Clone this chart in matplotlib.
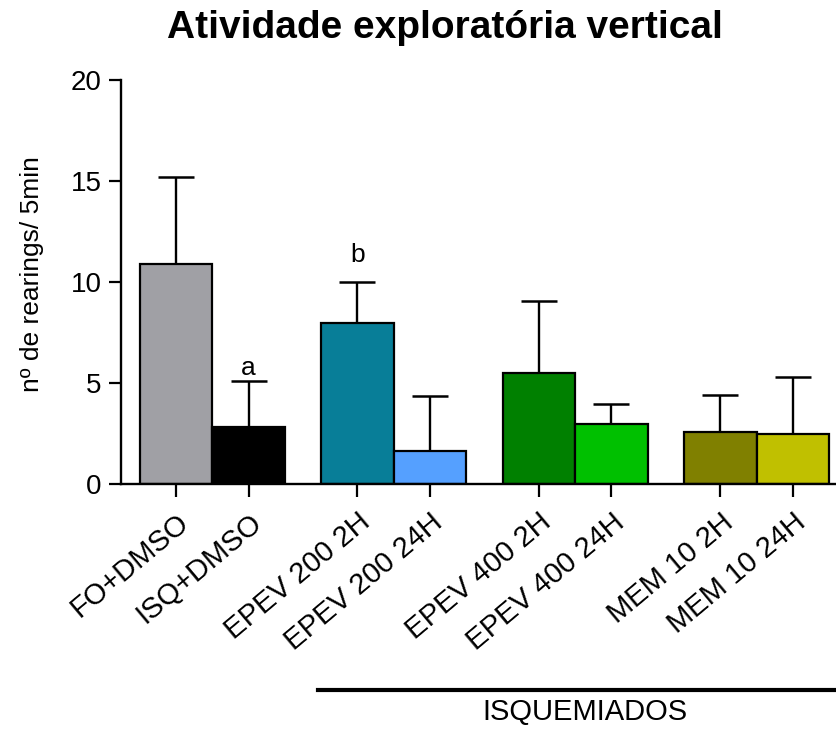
import numpy as np
import matplotlib
matplotlib.use("Agg")
import matplotlib.pyplot as plt

plt.rcParams['font.family'] = ['Liberation Sans', 'DejaVu Sans']

grupos = ["FO+DMSO", "ISQ+DMSO", "EPEV 200 2H", "EPEV 200 24H",
          "EPEV 400 2H", "EPEV 400 24H", "MEM 10 2H", "MEM 10 24H"]
medias = [10.9, 2.82, 8.0, 1.65, 5.5, 2.98, 2.57, 2.47]
epm = [4.28, 2.28, 2.01, 2.74, 3.57, 1.01, 1.87, 2.84]
cores = ["#a0a0a5", "#000000", "#087e98", "#55a0ff",
         "#008000", "#00c000", "#808000", "#c0c000"]
# letras de significancia: indice da barra -> (texto, altura)
letras = {1: ("a", 5.4), 2: ("b", 11.0)}

# pares de barras separados por meia largura
pos = np.array([0, 1, 2.5, 3.5, 5, 6, 7.5, 8.5])

fig = plt.figure(figsize=(8.37, 7.29), dpi=100)
ax = fig.add_axes([0.1446, 0.3357, 0.853, 0.5546])

ax.bar(pos, medias, width=1.0, color=cores, edgecolor="black", linewidth=1.6, zorder=2)
ax.errorbar(pos, medias, yerr=[np.zeros(len(medias)), epm], fmt="none",
            ecolor="black", elinewidth=1.7, capsize=13, capthick=1.8, zorder=1)

for i, (txt, y) in letras.items():
    ax.text(pos[i], y, txt, ha="center", va="baseline", fontsize=19)

ax.set_xlim(-0.758, 9.08)
ax.set_ylim(0, 20)
ax.set_yticks([0, 5, 10, 15, 20])
ax.set_xticks(pos)
ax.set_xticklabels(grupos, rotation=40, ha="right", rotation_mode="anchor", fontsize=21)
ax.tick_params(axis="y", labelsize=20, width=1.6, length=9, pad=5)
ax.tick_params(axis="x", width=1.6, length=9, pad=8)
for s in ["top", "right"]:
    ax.spines[s].set_visible(False)
for s in ["left", "bottom"]:
    ax.spines[s].set_linewidth(1.7)

ax.set_ylabel("nº de rearings/ 5min", fontsize=19)
ax.yaxis.set_label_coords(-0.108, 0.52)

fig.text(445 / 837, 1 - 38 / 729, "Atividade exploratória vertical",
         ha="center", va="baseline", fontsize=28, fontweight="bold")

# barra indicando os grupos isquemiados
fig.add_artist(plt.Line2D([318 / 837, 1.0], [1 - 690 / 729] * 2, color="black", linewidth=3,
                          transform=fig.transFigure))
fig.text(585 / 837, 1 - 712 / 729, "ISQUEMIADOS", ha="center", va="center", fontsize=21)

fig.savefig("out.png", dpi=100)
